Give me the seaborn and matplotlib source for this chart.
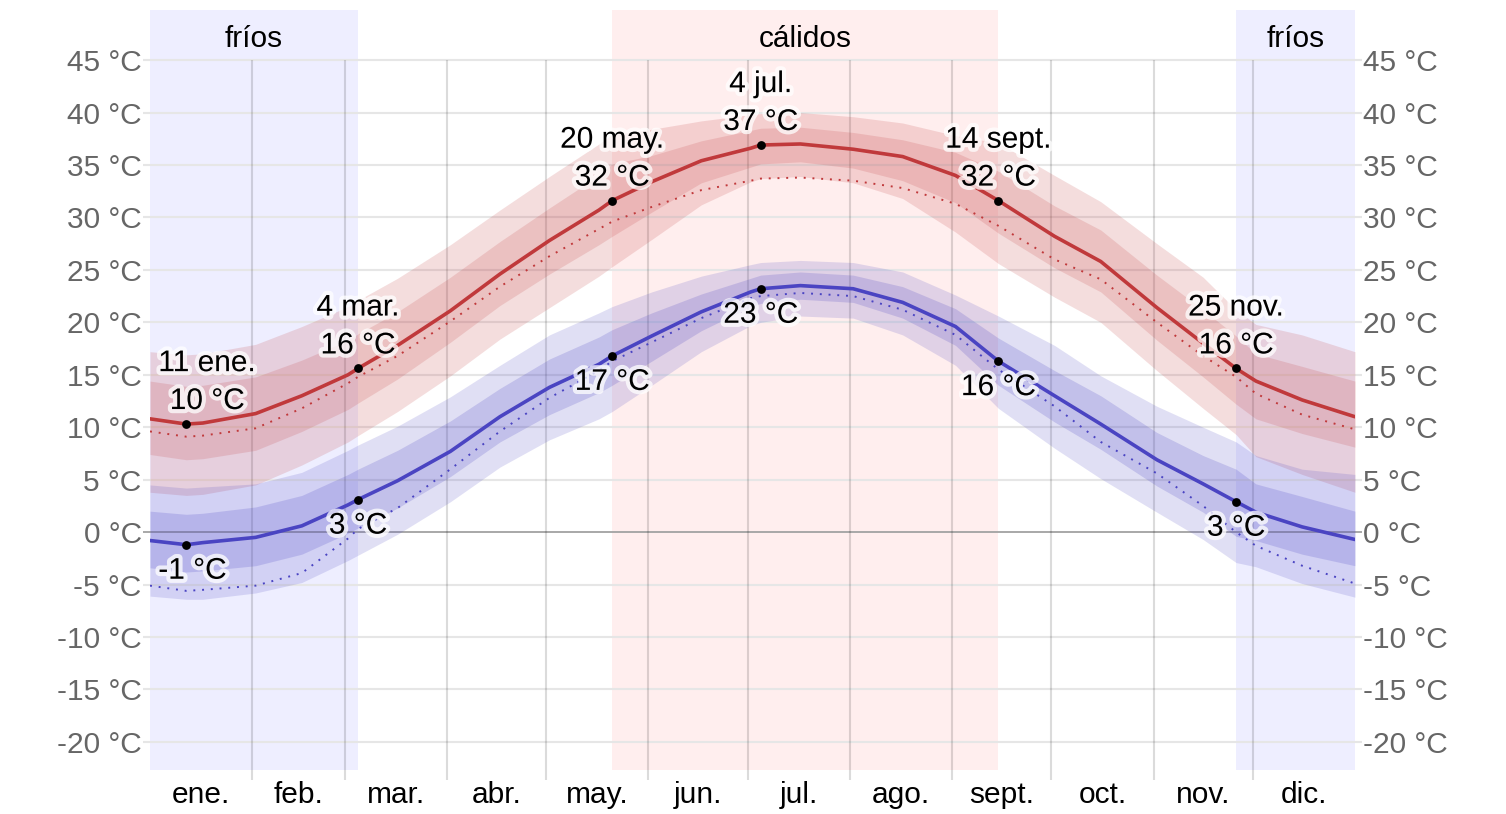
import numpy as np
import pandas as pd
import matplotlib
matplotlib.use("Agg")
import matplotlib.pyplot as plt
import matplotlib.patheffects as pe
import seaborn as sns

# sample days (day of year, 0 = start of ene., 365 = end of dic.)
days = [0, 11, 16, 32, 46, 60, 63, 75, 91, 106, 121, 136, 140, 152, 167,
        182, 185, 197, 213, 228, 244, 257, 274, 288, 305, 319, 329, 335, 349, 365]

# daily high: mean, dotted line, and 10/25/75/90 percentile bands
hi_mean = [10.8, 10.3, 10.4, 11.3, 13.0, 15.0, 15.6, 17.8, 21.1, 24.6, 27.8, 30.7, 31.6, 33.4, 35.4,
           36.6, 36.9, 37.0, 36.5, 35.8, 34.0, 31.6, 28.2, 25.8, 21.4, 18.0, 15.6, 14.4, 12.6, 11.0]
hi_feel = [9.6, 9.1, 9.2, 9.9, 11.8, 14.2, 14.8, 16.8, 20.1, 23.4, 26.3, 28.9, 29.6, 31.0, 32.6,
           33.5, 33.7, 33.8, 33.5, 32.8, 31.3, 29.2, 26.0, 24.1, 20.0, 16.8, 14.8, 13.2, 11.2, 9.8]
hi_p10 = [3.8, 3.5, 3.6, 4.5, 6.4, 8.6, 9.2, 11.5, 14.9, 18.4, 21.4, 24.4, 25.3, 27.9, 31.2,
          33.4, 33.7, 33.9, 33.3, 31.8, 28.6, 25.6, 22.4, 20.0, 15.4, 11.8, 9.3, 7.2, 5.5, 3.8]
hi_p25 = [7.4, 6.9, 7.0, 7.8, 9.6, 11.7, 12.3, 14.6, 18.1, 21.6, 24.6, 27.4, 28.2, 30.5, 33.3,
          34.8, 35.1, 35.3, 34.7, 33.5, 31.4, 28.5, 25.2, 22.9, 18.3, 14.8, 12.2, 10.8, 9.4, 8.1]
hi_p75 = [14.4, 13.9, 14.0, 14.8, 16.4, 18.3, 18.9, 21.0, 24.3, 27.7, 30.9, 34.0, 35.1, 35.9, 37.3,
          38.3, 38.5, 38.6, 38.1, 37.4, 36.2, 34.4, 31.1, 28.8, 24.5, 21.2, 18.7, 17.0, 15.8, 14.4]
hi_p90 = [17.2, 16.9, 17.0, 17.9, 19.6, 21.5, 22.1, 24.2, 27.4, 30.7, 33.9, 37.0, 37.9, 38.4, 39.2,
          39.8, 39.9, 40.0, 39.6, 39.0, 37.8, 37.1, 34.0, 31.5, 27.5, 24.3, 21.2, 19.8, 18.8, 17.2]

# daily low
lo_mean = [-0.8, -1.2, -1.0, -0.5, 0.6, 2.6, 3.1, 4.9, 7.7, 11.0, 13.8, 16.0, 16.8, 18.7, 21.0,
           22.9, 23.2, 23.5, 23.2, 21.9, 19.6, 16.3, 13.0, 10.3, 6.9, 4.6, 2.9, 1.9, 0.5, -0.7]
lo_feel = [-5.1, -5.6, -5.5, -5.1, -3.9, -0.6, 0.3, 2.3, 6.0, 9.6, 12.8, 15.4, 16.3, 18.1, 20.4,
           22.3, 22.5, 22.8, 22.5, 21.2, 18.8, 15.5, 12.0, 8.6, 5.6, 2.5, 0.0, -1.3, -3.2, -4.9]
lo_p10 = [-6.1, -6.4, -6.4, -5.8, -4.8, -2.7, -2.2, -0.2, 2.9, 6.2, 8.8, 10.8, 11.5, 14.0, 17.2,
          19.7, 20.0, 20.6, 20.4, 18.8, 15.9, 11.8, 8.0, 5.1, 1.9, -0.7, -2.9, -3.3, -4.9, -6.2]
lo_p25 = [-3.4, -3.8, -3.7, -3.2, -2.1, -0.1, 0.4, 2.3, 5.3, 8.6, 11.2, 13.3, 14.0, 16.3, 19.2,
          21.5, 21.8, 22.2, 21.9, 20.4, 17.8, 14.0, 10.5, 7.9, 4.4, 1.9, -0.4, -0.8, -2.1, -3.2]
lo_p75 = [2.0, 1.7, 1.8, 2.4, 3.5, 5.5, 6.0, 7.8, 10.6, 13.7, 16.5, 18.6, 19.3, 20.9, 22.7,
          24.2, 24.5, 24.8, 24.5, 23.4, 21.3, 18.5, 15.4, 13.0, 9.5, 7.3, 6.0, 4.6, 3.4, 2.0]
lo_p90 = [4.5, 4.2, 4.3, 4.6, 5.7, 7.8, 8.3, 10.1, 12.9, 15.9, 18.8, 20.9, 21.5, 22.9, 24.4,
          25.5, 25.7, 25.9, 25.7, 24.8, 22.6, 20.6, 17.8, 14.9, 12.0, 10.0, 8.6, 7.3, 6.0, 5.5]

# highlighted days
mark_days = [11, 63, 140, 185, 257, 329]
mark_dates = ['11 ene.', '4 mar.', '20 may.', '4 jul.', '14 sept.', '25 nov.']
mark_hi = [10.3, 15.6, 31.6, 36.9, 31.6, 15.6]
mark_lo = [-1.2, 3.1, 16.8, 23.2, 16.3, 2.9]

# seasons
cold_spans = [(0, 63), (329, 365)]
warm_spans = [(140, 257)]

months = ['ene.', 'feb.', 'mar.', 'abr.', 'may.', 'jun.', 'jul.', 'ago.', 'sept.', 'oct.', 'nov.', 'dic.']
month_starts = [0, 31, 59, 90, 120, 151, 181, 212, 243, 273, 304, 334, 365]
yticks = list(range(-20, 50, 5))

sns.set_theme(style='white')
plt.rcParams['font.family'] = ['Liberation Sans', 'DejaVu Sans']

df = pd.DataFrame({'day': days, 'hi': hi_mean, 'hi_feel': hi_feel,
                   'lo': lo_mean, 'lo_feel': lo_feel})

RED = '#c0393b'
BLUE = '#4a44c2'
FS = 21.5

fig = plt.figure(figsize=(15.06, 8.14), dpi=100)
ax = fig.add_axes([0.0996, 0.0541, 0.8001, 0.9336])
ymin, ymax = -22.67, 49.77
ax.set_xlim(0, 365)
ax.set_ylim(ymin, ymax)

# season shading
for a, b in cold_spans:
    ax.axvspan(a, b, color='#eeeeff', zorder=0, lw=0)
for a, b in warm_spans:
    ax.axvspan(a, b, color='#ffeeee', zorder=0, lw=0)

# grid
for y in yticks:
    if y == 0:
        ax.hlines(y, -2.1, 367.1, color='#a8a8a8', lw=1.4, zorder=1, clip_on=False)
    else:
        ax.hlines(y, -2.1, 367.1, color='#e6e6e6', lw=1.5, zorder=1, clip_on=False)
ax.vlines(month_starts[1:-1], -23.6, 45, color='black', alpha=0.14, lw=1.5, zorder=1, clip_on=False)

# bands
ax.fill_between(days, hi_p10, hi_p90, color=RED, alpha=0.17, lw=0, zorder=2)
ax.fill_between(days, hi_p25, hi_p75, color=RED, alpha=0.17, lw=0, zorder=2)
ax.fill_between(days, lo_p10, lo_p90, color=BLUE, alpha=0.17, lw=0, zorder=2)
ax.fill_between(days, lo_p25, lo_p75, color=BLUE, alpha=0.2, lw=0, zorder=2)

# lines
sns.lineplot(data=df, x='day', y='hi', color=RED, lw=2.6, ax=ax, zorder=3)
sns.lineplot(data=df, x='day', y='lo', color=BLUE, lw=2.6, ax=ax, zorder=3)
sns.lineplot(data=df, x='day', y='hi_feel', color=RED, lw=1.4, ls=(0, (1, 3.5)), ax=ax, zorder=3)
sns.lineplot(data=df, x='day', y='lo_feel', color=BLUE, lw=1.4, ls=(0, (1, 3.5)), ax=ax, zorder=3)

# markers
sns.scatterplot(x=mark_days + mark_days, y=mark_hi + mark_lo, color='black', s=40,
                linewidth=0, ax=ax, zorder=4)

halo = [pe.withStroke(linewidth=6, foreground='white', alpha=0.75)]
for i, (d, lab, h, l) in enumerate(zip(mark_days, mark_dates, mark_hi, mark_lo)):
    ha = 'left' if i == 0 else 'center'
    dx = -28 if i == 0 else 0
    ax.annotate(f'{lab}\n{round(h)} °C', (d, h), xytext=(dx, 42), textcoords='offset pixels',
                ha=ha, va='center', multialignment='center', fontsize=FS, color='black',
                linespacing=1.45, path_effects=halo, zorder=5)
    ax.annotate(f'{round(l)} °C', (d, l), xytext=(dx, -26),
                textcoords='offset pixels', ha=ha, va='center', fontsize=FS,
                color='black', path_effects=halo, zorder=5)

# season labels
for a, b in cold_spans:
    ax.text((a + b) / 2, 47.0, 'fríos', ha='center', va='center', fontsize=FS, color='black')
for a, b in warm_spans:
    ax.text((a + b) / 2, 47.0, 'cálidos', ha='center', va='center', fontsize=FS, color='black')

# axes
ax.set_yticks(yticks)
ax.set_yticklabels([f'{v} °C' for v in yticks])
mid = [(month_starts[i] + month_starts[i + 1]) / 2 for i in range(12)]
ax.set_xticks(mid)
ax.set_xticklabels(months)
ax.tick_params(axis='y', labelleft=True, labelright=True, length=0, pad=6,
               labelsize=FS, labelcolor='#666666')
ax.tick_params(axis='x', length=0, pad=8, labelsize=FS, labelcolor='black')
ax.set_xlabel('')
ax.set_ylabel('')
for s in ax.spines.values():
    s.set_visible(False)
ax.set_facecolor('white')

fig.savefig('out.png', dpi=100)
